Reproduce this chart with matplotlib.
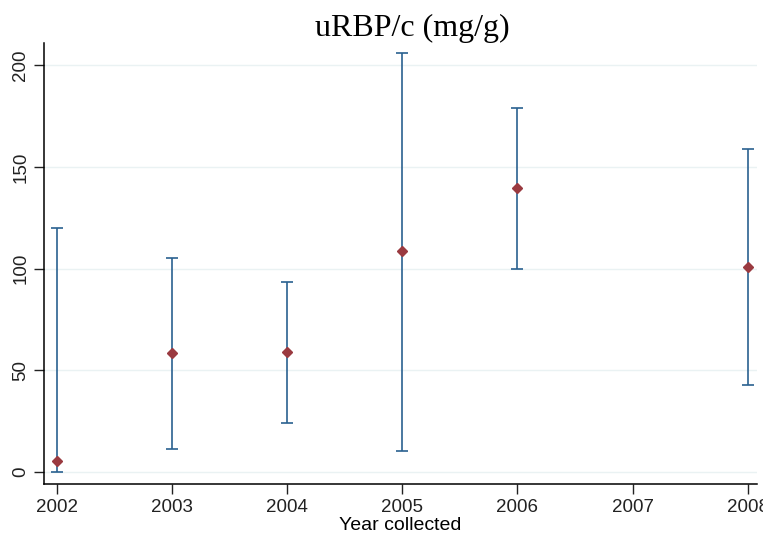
import numpy as np
import matplotlib
matplotlib.use("Agg")
from matplotlib import pyplot as plt

# values
years = [2002, 2003, 2004, 2005, 2006, 2008]
means = [5.3, 58.4, 58.9, 108.5, 139.7, 100.7]
lower = [0.0, 11.2, 24.0, 10.2, 99.6, 42.5]
upper = [119.9, 105.0, 93.3, 206.0, 178.9, 158.7]
xticks = [2002, 2003, 2004, 2005, 2006, 2007, 2008]
yticks = [0, 50, 100, 150, 200]

navy = "#2a6190"
maroon = "#9a3a40"

fig = plt.figure(figsize=(7.63, 5.38), dpi=100)
ax = fig.add_axes([0.0577, 0.1004, 0.9343, 0.8196])

means_a = np.array(means)
yerr = np.vstack([means_a - np.array(lower), np.array(upper) - means_a])
ax.errorbar(years, means, yerr=yerr, fmt="none", ecolor=navy, elinewidth=1.2,
            capsize=4, capthick=1.2, zorder=2)
ax.plot(years, means, linestyle="none", marker="D", markersize=5,
        color=maroon, zorder=3)

ax.set_xlim(2001.89, 2008.08)
ax.set_ylim(-6, 211)
ax.set_xticks(xticks)
ax.set_yticks(yticks)
ax.set_yticklabels([str(v) for v in yticks], rotation=90, va="center")
ax.grid(axis="y", color="#eaf2f3", linewidth=1)
ax.set_axisbelow(True)
for s in ["top", "right"]:
    ax.spines[s].set_visible(False)
for s in ["left", "bottom"]:
    ax.spines[s].set_linewidth(1.1)
ax.tick_params(length=7, width=1, labelsize=13.5, colors="#222222")
for lab in ax.get_xticklabels() + ax.get_yticklabels():
    lab.set_family("Liberation Sans")

ax.set_xlabel("Year collected", fontsize=14, family="Liberation Sans", labelpad=1)
ax.set_title("uRBP/c (mg/g)", fontsize=23, family="Liberation Serif", pad=-1, x=0.516)

plt.savefig("out.png", dpi=100)
plt.close()
